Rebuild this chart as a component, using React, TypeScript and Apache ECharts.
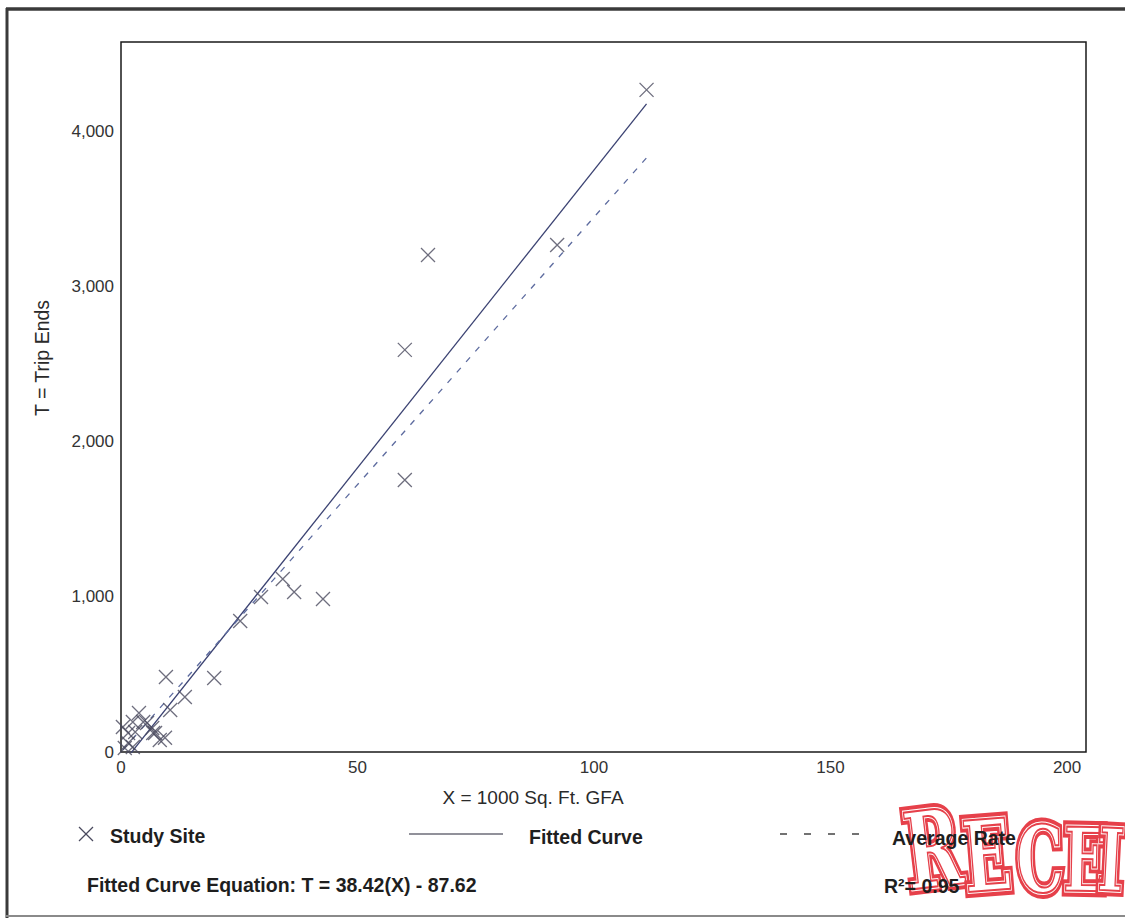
import React, { useEffect, useRef } from "react";
import * as echarts from "echarts";

// Study sites: X = 1000 Sq. Ft. GFA, T = trip ends
const siteX = [
  111.1, 92.2, 64.9, 60.0, 60.0, 34.2, 36.6, 42.7, 29.6, 25.2, 9.5, 19.7, 13.5, 10.4, 9.3,
  3.8, 2.5, 4.7, 5.5, 1.5, 3.0, 6.8, 6.6, 8.2, 0.4, 1.5, 2.5, 0.8, 7.2,
];
const siteT = [
  4271, 3271, 3206, 2594, 1755, 1116, 1032, 987, 1000, 845, 484, 477, 355, 271, 92,
  252, 194, 194, 187, 123, 129, 123, 155, 77, 161, 58, 32, 26, 123,
];

// Fitted curve T = 38.42(X) - 87.62 and average rate line
const FIT_SLOPE = 38.42;
const FIT_INTERCEPT = -87.62;
const AVG_RATE = 34.5;
const R_SQUARED = 0.95;

// Axis setup
const X_MAX = 204;
const X_STEP = 50;
const Y_MAX = 4580;
const Y_STEP = 1000;

const FONT = '"Liberation Sans", Arial, sans-serif';
const STAMP_RED = "#e6404a";

// One letter of the red "received" stamp: thick red outline, white body, thin inner red edge
function stampLetter(ch: string, x: number, y: number, size: number, rot: number) {
  const font = {
    fontFamily: '"DejaVu Serif", serif',
    fontWeight: "bold" as const,
    fontSize: size,
    textAlign: "center" as const,
    textVerticalAlign: "middle" as const,
  };
  return {
    type: "group",
    x,
    y,
    rotation: rot,
    scaleX: 0.64,
    z: 1,
    children: [
      { type: "text", style: { ...font, text: ch, fill: STAMP_RED, stroke: STAMP_RED, lineWidth: 12 } },
      { type: "text", style: { ...font, text: ch, fill: "#fff", stroke: "#fff", lineWidth: 4 } },
      { type: "text", style: { ...font, text: ch, fill: "rgba(255,255,255,0)", stroke: STAMP_RED, lineWidth: 2 } },
    ],
  };
}

export default function App() {
  const ref = useRef<HTMLDivElement>(null);

  useEffect(() => {
    if (!ref.current) return;
    const chart = echarts.init(ref.current, undefined, { renderer: "svg" });

    const sites = siteX.map((x, i) => [x, siteT[i]]);
    const xLo = Math.min(...siteX);
    const xHi = Math.max(...siteX);
    const fitted = [
      [xLo, FIT_SLOPE * xLo + FIT_INTERCEPT],
      [xHi, FIT_SLOPE * xHi + FIT_INTERCEPT],
    ];
    const average = [
      [xLo, AVG_RATE * xLo],
      [xHi, AVG_RATE * xHi],
    ];

    const legendText = (text: string, x: number, y: number) => ({
      type: "text",
      x,
      y,
      z: 10,
      style: {
        text,
        fill: "#1e1e1e",
        fontFamily: FONT,
        fontWeight: "bold",
        fontSize: 19.5,
        textAlign: "left",
        textVerticalAlign: "middle",
      },
    });

    chart.setOption({
      animation: false,
      backgroundColor: "#ffffff",
      grid: {
        left: 121,
        top: 42,
        width: 965,
        height: 710,
        show: true,
        borderColor: "#1a1a1a",
        borderWidth: 1.5,
        backgroundColor: "transparent",
      },
      xAxis: {
        type: "value",
        min: 0,
        max: X_MAX,
        interval: X_STEP,
        axisLine: { show: false },
        axisTick: { show: false },
        splitLine: { show: false },
        axisLabel: {
          showMaxLabel: false,
          fontSize: 17,
          color: "#333",
          fontFamily: FONT,
          margin: 7,
        },
      },
      yAxis: {
        type: "value",
        min: 0,
        max: Y_MAX,
        interval: Y_STEP,
        axisLine: { show: false },
        axisTick: { show: false },
        splitLine: { show: false },
        axisLabel: {
          showMaxLabel: false,
          fontSize: 17,
          color: "#333",
          fontFamily: FONT,
          margin: 7,
          formatter: (v: number) => v.toLocaleString("en-US"),
        },
      },
      series: [
        {
          name: "Fitted Curve",
          type: "line",
          data: fitted,
          showSymbol: false,
          lineStyle: { color: "#3b4272", width: 1.3 },
          z: 3,
        },
        {
          name: "Average Rate",
          type: "line",
          data: average,
          showSymbol: false,
          lineStyle: { color: "#5d6b9f", width: 1.3, type: [6, 8] },
          z: 3,
        },
        {
          name: "Study Site",
          type: "scatter",
          data: sites,
          symbol: "path://M0 0L10 10M10 0L0 10",
          symbolSize: 14,
          itemStyle: { color: "rgba(0,0,0,0)", borderColor: "#4a4a5e", borderWidth: 1.3 },
          z: 4,
        },
      ],
      graphic: [
        // page frame
        { type: "line", z: 5, shape: { x1: 6, y1: 9, x2: 1125, y2: 9 }, style: { stroke: "#3a3a3a", lineWidth: 3.5 } },
        { type: "line", z: 5, shape: { x1: 7, y1: 8, x2: 7, y2: 918 }, style: { stroke: "#3a3a3a", lineWidth: 3 } },
        { type: "line", z: 5, shape: { x1: 6, y1: 916, x2: 1125, y2: 916 }, style: { stroke: "#8a8a8a", lineWidth: 2 } },
        // axis titles
        {
          type: "text",
          x: 533,
          y: 797,
          style: {
            text: "X = 1000 Sq. Ft. GFA",
            fill: "#2a2a2a",
            fontFamily: FONT,
            fontSize: 19,
            textAlign: "center",
            textVerticalAlign: "middle",
          },
        },
        {
          type: "text",
          x: 42,
          y: 358,
          rotation: Math.PI / 2,
          style: {
            text: "T = Trip Ends",
            fill: "#2a2a2a",
            fontFamily: FONT,
            fontSize: 19.5,
            textAlign: "center",
            textVerticalAlign: "middle",
          },
        },
        // stamp
        stampLetter("R", 933, 849, 106, 0.12),
        stampLetter("E", 987, 856, 98, 0.08),
        stampLetter("C", 1040, 859, 92, 0.03),
        stampLetter("E", 1085, 860, 88, -0.02),
        stampLetter("I", 1111, 860, 86, -0.05),
        // legend
        {
          type: "polyline",
          z: 10,
          shape: { points: [[79, 827], [93, 841]] },
          style: { stroke: "#4a4a5e", lineWidth: 1.3 },
        },
        {
          type: "polyline",
          z: 10,
          shape: { points: [[93, 827], [79, 841]] },
          style: { stroke: "#4a4a5e", lineWidth: 1.3 },
        },
        legendText("Study Site", 110, 836),
        {
          type: "line",
          z: 10,
          shape: { x1: 409, y1: 834, x2: 503, y2: 834 },
          style: { stroke: "#6c6c78", lineWidth: 1.3 },
        },
        legendText("Fitted Curve", 529, 837),
        {
          type: "line",
          z: 10,
          shape: { x1: 780, y1: 834, x2: 860, y2: 834 },
          style: { stroke: "#444", lineWidth: 1.6, lineDash: [7, 17] },
        },
        legendText("Average Rate", 892, 838),
        legendText(`Fitted Curve Equation: T = ${FIT_SLOPE.toFixed(2)}(X) - ${Math.abs(FIT_INTERCEPT).toFixed(2)}`, 87, 885),
        legendText(`R²= ${R_SQUARED.toFixed(2)}`, 884, 886),
      ],
    });

    return () => chart.dispose();
  }, []);

  return (
    <div
      ref={ref}
      style={{ position: "fixed", left: 0, top: 0, width: 1125, height: 920, background: "#fff" }}
    />
  );
}
